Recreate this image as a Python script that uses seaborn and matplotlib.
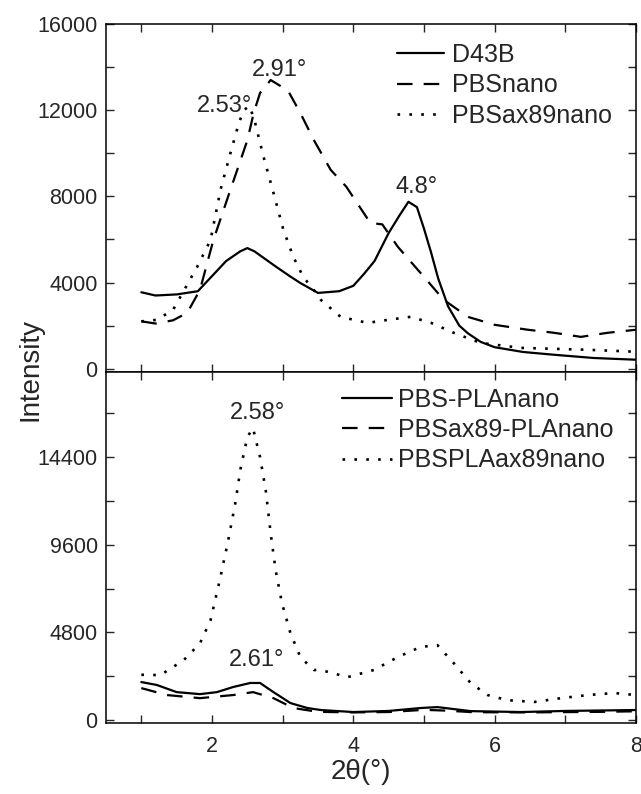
import numpy as np
import pandas as pd
import seaborn as sns
import matplotlib
matplotlib.use("Agg")
import matplotlib.pyplot as plt
from matplotlib.ticker import MultipleLocator

# ---- data (2theta in degrees, intensity) ----
# top panel
d43b_x = [1.0, 1.2, 1.5, 1.8, 2.0, 2.2, 2.4, 2.5, 2.6, 2.75, 2.9, 3.1, 3.25, 3.5, 3.8, 4.0, 4.15,
          4.3, 4.5, 4.65, 4.78, 4.9, 5.0, 5.1, 5.2, 5.34, 5.5, 5.62, 5.8, 6.0, 6.4, 6.84, 7.4, 8.0]
d43b_y = [3550, 3400, 3450, 3600, 4300, 5000, 5450, 5600, 5450, 5100, 4750, 4300, 3980, 3520, 3600,
          3850, 4400, 5000, 6300, 7100, 7750, 7500, 6500, 5400, 4200, 2900, 2000, 1650, 1250, 1000,
          780, 650, 500, 420]

pbsnano_x = [1.0, 1.2, 1.45, 1.65, 1.83, 2.02, 2.26, 2.5, 2.59, 2.68, 2.83, 2.99, 3.07, 3.25, 3.44,
             3.68, 3.9, 4.24, 4.41, 4.63, 4.95, 5.28, 5.62, 6.0, 6.47, 6.84, 7.22, 7.6, 8.0]
pbsnano_y = [2200, 2100, 2250, 2600, 3660, 5980, 8300, 10600, 11870, 12800, 13400, 13080, 12940,
             11870, 10620, 9230, 8450, 6770, 6700, 5660, 4450, 3200, 2410, 2040, 1810, 1670, 1480,
             1670, 1810]

pbsax_x = [1.0, 1.22, 1.45, 1.79, 1.98, 2.12, 2.26, 2.38, 2.45, 2.53, 2.6, 2.73, 2.87, 3.01, 3.15,
           3.29, 3.44, 3.54, 3.82, 4.2, 4.49, 4.81, 5.1, 5.42, 5.8, 6.37, 7.32, 8.0]
pbsax_y = [2200, 2270, 2740, 4730, 5980, 8300, 10000, 11400, 12000, 12200, 11550, 9830, 8160, 6450,
           5200, 4270, 3660, 3200, 2410, 2130, 2270, 2410, 2130, 1670, 1200, 970, 880, 790]

# bottom panel
pbspla_x = [1.0, 1.22, 1.5, 1.83, 2.07, 2.3, 2.54, 2.68, 2.87, 3.11, 3.35, 3.54, 4.0, 4.5, 4.95,
            5.19, 5.66, 6.37, 7.0, 8.0]
pbspla_y = [2080, 1920, 1530, 1420, 1530, 1810, 2030, 2030, 1530, 930, 660, 550, 440, 500, 660,
            710, 490, 440, 500, 550]

pbsaxpla_x = [1.0, 1.36, 1.83, 2.3, 2.58, 2.87, 3.15, 3.5, 4.0, 4.5, 5.0, 5.3, 5.7, 6.5, 7.5, 8.0]
pbsaxpla_y = [1750, 1370, 1200, 1370, 1530, 1200, 660, 450, 420, 440, 560, 520, 430, 420, 450, 480]

pbsplaax_x = [1.0, 1.27, 1.6, 1.83, 1.98, 2.12, 2.23, 2.33, 2.4, 2.5, 2.58, 2.68, 2.76, 2.83, 2.9,
              2.99, 3.11, 3.25, 3.44, 3.54, 3.92, 4.29, 4.63, 4.95, 5.19, 5.42, 5.66, 5.9, 6.18,
              6.56, 6.94, 7.32, 7.69, 8.0]
pbsplaax_y = [2480, 2460, 3280, 4200, 5470, 7830, 9850, 11880, 13680, 15490, 15980, 14390, 12590,
              10230, 8210, 6400, 4760, 3450, 2740, 2740, 2350, 2740, 3450, 4000, 4100, 3120, 2030,
              1370, 1090, 990, 1200, 1370, 1480, 1370]

top_series = [("D43B", d43b_x, d43b_y, "-"),
              ("PBSnano", pbsnano_x, pbsnano_y, (0, (7, 5))),
              ("PBSax89nano", pbsax_x, pbsax_y, (0, (1, 3.5)))]
bot_series = [("PBS-PLAnano", pbspla_x, pbspla_y, "-"),
              ("PBSax89-PLAnano", pbsaxpla_x, pbsaxpla_y, (0, (7, 5))),
              ("PBSPLAax89nano", pbsplaax_x, pbsplaax_y, (0, (1, 3.5)))]

top_notes = [("2.91°", 2.95, 13870), ("2.53°", 2.17, 12200), ("4.8°", 4.9, 8440)]
bot_notes = [("2.58°", 2.65, 16800), ("2.61°", 2.63, 3280)]

sns.set_style("ticks")
plt.rcParams["font.family"] = ["Liberation Sans", "DejaVu Sans"]
plt.rcParams["axes.linewidth"] = 1.1

fig = plt.figure(figsize=(6.41, 7.94), dpi=100)
ax1 = fig.add_axes([106 / 641, 1 - 372 / 794, 530 / 641, 348 / 794])
ax2 = fig.add_axes([106 / 641, 1 - 723 / 794, 530 / 641, 351 / 794], sharex=ax1)


def draw(ax, series, notes):
    for name, xs, ys, ls in series:
        df = pd.DataFrame({"x": xs, "y": ys})
        lw = 1.9 if ls == (0, (1, 3.5)) else 1.6
        sns.lineplot(data=df, x="x", y="y", ax=ax, color="black", linestyle=ls,
                     linewidth=lw, label=name, estimator=None, sort=False)
    for txt, x, y in notes:
        ax.text(x, y, txt, ha="center", va="center", fontsize=17)
    ax.tick_params(which="both", direction="in", length=6, width=1.0,
                   top=True, right=True, labelsize=15.5)
    ax.tick_params(axis="y", pad=6)
    ax.tick_params(axis="x", pad=9)
    ax.set_xlabel("")
    ax.set_ylabel("")
    for s in ax.spines.values():
        s.set_color("black")


draw(ax1, top_series, top_notes)
draw(ax2, bot_series, bot_notes)

ax1.set_xlim(0.5, 8)
ax1.xaxis.set_major_locator(MultipleLocator(2))
ax1.xaxis.set_minor_locator(MultipleLocator(1))
ax1.set_ylim(-150, 16000)
ax1.yaxis.set_major_locator(MultipleLocator(4000))
ax1.yaxis.set_minor_locator(MultipleLocator(2000))
ax1.tick_params(labelbottom=False)

ax2.set_ylim(-160, 19050)
ax2.yaxis.set_major_locator(MultipleLocator(4800))
ax2.yaxis.set_minor_locator(MultipleLocator(2400))

ax1.legend(loc="upper left", bbox_to_anchor=(0.549, 0.945), frameon=False, fontsize=18,
           handlelength=1.9, handletextpad=0.3, labelspacing=0.25, borderpad=0, borderaxespad=0)
ax2.legend(loc="upper left", bbox_to_anchor=(0.445, 0.955), frameon=False, fontsize=18,
           handlelength=2.0, handletextpad=0.25, labelspacing=0.25, borderpad=0, borderaxespad=0)

fig.text(0.047, 1 - 370 / 794, "Intensity", rotation=90, ha="center", va="center", fontsize=20)
fig.text(361 / 641, 1 - 772 / 794, "2θ(°)", ha="center", va="center", fontsize=20)

fig.savefig("out.png", dpi=100)
